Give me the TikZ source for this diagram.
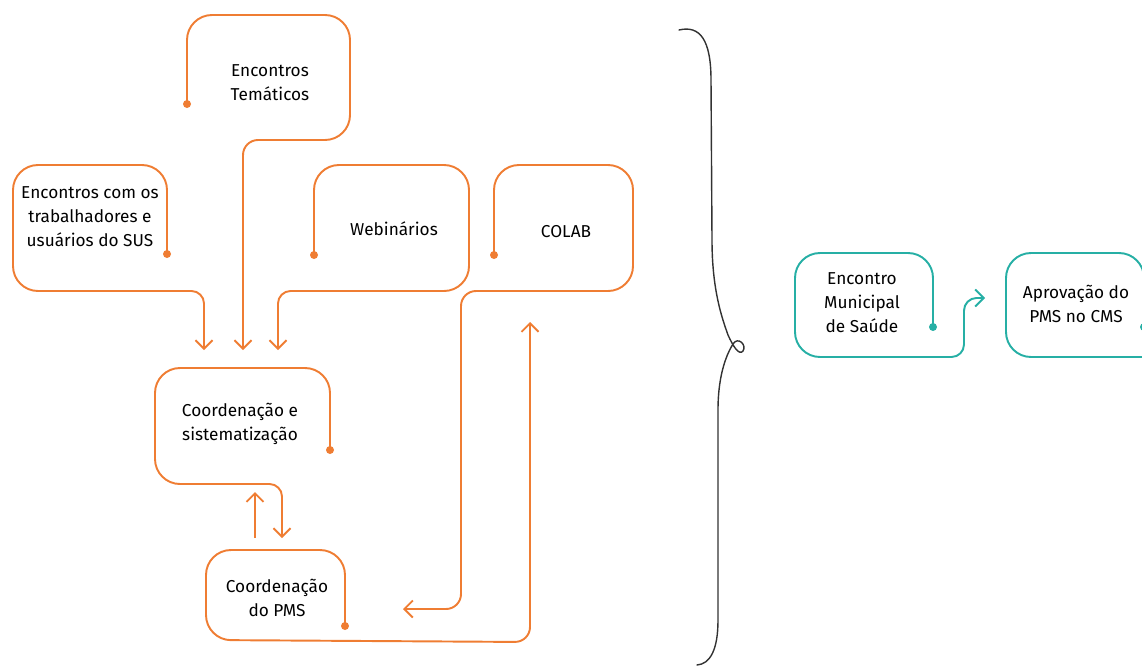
\documentclass[tikz,border=0pt]{standalone}
\usepackage{fontspec}
\setmainfont{Fira Sans}
\usetikzlibrary{arrows.meta}
\definecolor{pmsorange}{RGB}{239,125,51}
\definecolor{pmsteal}{RGB}{38,175,165}
\definecolor{bracegray}{RGB}{50,50,50}

\begin{document}
\begin{tikzpicture}[
    x=0.02cm, y=-0.02cm,
    txt/.style={align=center, font=\fontsize{9.8}{13.6}\selectfont, inner sep=0pt},
    flow/.style={draw=pmsorange, line width=1.1pt, rounded corners=0.5cm, -{Straight Barb[length=0.17cm, width=0.34cm]}},
    tealflow/.style={flow, draw=pmsteal},
    dotmark/.style={fill=pmsorange},
    brace/.style={draw=bracegray, line width=0.8pt, line cap=round}
]
    \clip (0,0) rectangle (1142,666);

    % Texts
    \node[txt] (tem) at (270,83) {Encontros\\Temáticos};
    \node[txt] (sus) at (90,217) {Encontros com os\\trabalhadores e\\usuários do SUS};
    \node[txt] (web) at (394,229) {Webinários};
    \node[txt] (colab) at (566,232) {COLAB};
    \node[txt] (sis) at (240,424) {Coordenação e\\sistematização};
    \node[txt] (pms) at (277,598) {Coordenação\\do PMS};
    \node[txt] (mun) at (862,303) {Encontro\\Municipal\\de Saúde};
    \node[txt] (apr) at (1076,304) {Aprovação do\\PMS no CMS};

    % Dots and arrow ends
    \coordinate (temDot) at (187,104);
    \coordinate (susDot) at (167,254);
    \coordinate (webDot) at (314,255);
    \coordinate (colDot) at (494,255);
    \coordinate (sisDot) at (330,450);
    \coordinate (pmsDot) at (345,626);
    \coordinate (munDot) at (933,327);
    \coordinate (aprDot) at (1144,327);
    \coordinate (temTip) at (243,350);
    \coordinate (susTip) at (204,350);
    \coordinate (webTip) at (278,350);
    \coordinate (colTip) at (403,609);
    \coordinate (sisTip) at (282,538);
    \coordinate (pmsTip) at (530,322);
    \coordinate (upFrom) at (255,538);
    \coordinate (upTo) at (255,492);
    \coordinate (munTip) at (985,298);

    % Orange boxes running into the arrows
    \draw[flow] (temDot) -- (187,15) -- (350,15) -- (350,140) [rounded corners=0.3cm] -- (243,140) -- (temTip);
    \draw[flow] (susDot) -- (167,165) -- (13,165) -- (13,291) [rounded corners=0.25cm] -- (204,291) -- (susTip);
    \draw[flow] (webDot) -- (314,165) -- (469,165) -- (469,291) [rounded corners=0.25cm] -- (278,291) -- (webTip);
    \draw[flow] (colDot) -- (494,165) -- (633,165) -- (633,291) [rounded corners=0.3cm] -- (461,291) -- (461,609) -- (colTip);
    \draw[flow] (sisDot) -- (330,368) -- (155,368) -- (155,484) [rounded corners=0.25cm] -- (282,484) -- (sisTip);
    \draw[flow] (upFrom) -- (upTo);
    \draw[flow] (pmsDot) -- (345,550) -- (206,550) -- (206,640) [rounded corners=0.3cm] -- (530,642) -- (pmsTip);
    \foreach \d in {temDot,susDot,webDot,colDot,sisDot,pmsDot}
        \fill[dotmark] (\d) circle (4);

    % Brace
    \draw[brace] (679,30) .. controls (700,25) and (711,40) .. (711,80) -- (712,240)
        .. controls (712,290) and (722,318) .. (728,335)
        .. controls (733,346) and (739,356) .. (743,351)
        .. controls (747,345) and (738,336) .. (733,344)
        .. controls (728,352) and (718,372) .. (718,410) -- (718,620)
        .. controls (718,650) and (710,664) .. (697,665);

    % Teal boxes
    \draw[tealflow] (munDot) -- (933,253) -- (795,253) -- (795,357) [rounded corners=0.25cm] -- (964,357) -- (964,298) -- (munTip);
    \draw[tealflow, -] (aprDot) -- (1144,253) -- (1006,253) -- (1006,357) -- (1190,357);
    \foreach \d in {munDot,aprDot}
        \fill[pmsteal] (\d) circle (4);
\end{tikzpicture}
\end{document}
